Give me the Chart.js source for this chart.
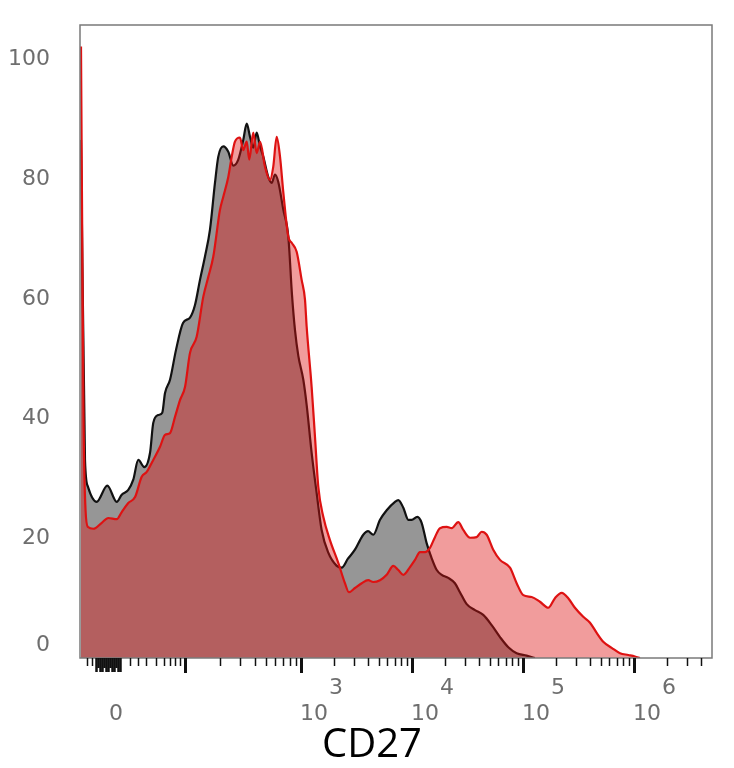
<!DOCTYPE html>
<html>
<head>
<meta charset="utf-8">
<script src="https://cdn.jsdelivr.net/npm/chart.js@4/dist/chart.umd.min.js"></script>
<style>
  html, body { margin: 0; padding: 0; background: #fff; }
  #wrap { width: 734px; height: 768px; position: relative; }
</style>
</head>
<body>
<div id="wrap"><canvas id="c"></canvas></div>
<script>
// ---- Data (x in display decades of the biexponential CD27 axis, y in % of max) ----
const blackX = [1.018,1.054,1.081,1.159,1.255,1.340,1.385,1.444,1.489,1.534,1.588,1.640,1.669,1.714,1.750,1.775,1.820,1.874,1.937,2.000,2.045,2.090,2.135,2.180,2.225,2.255,2.300,2.345,2.390,2.435,2.480,2.511,2.541,2.570,2.601,2.631,2.660,2.705,2.736,2.766,2.795,2.841,2.886,2.919,2.946,2.976,3.021,3.051,3.096,3.141,3.186,3.246,3.322,3.367,3.423,3.486,3.532,3.561,3.604,3.651,3.712,3.772,3.847,3.877,3.922,3.967,3.997,4.048,4.087,4.132,4.177,4.223,4.268,4.327,4.387,4.432,4.493,4.568,4.642,4.718,4.793,4.868,4.943,5.033,5.108];
const blackY = [86.6,33.1,28.6,26.1,28.8,26.1,27.3,28.1,29.8,33.1,31.9,34.3,39.3,40.6,41.0,44.3,46.5,51.5,56.0,56.9,59.0,63.2,67.1,71.6,79.4,83.8,85.5,84.6,82.3,83.3,86.6,89.3,87.1,85.3,87.8,85.5,83.8,80.4,79.4,80.8,79.6,74.9,70.4,60.7,54.8,50.5,46.5,42.3,34.3,27.6,21.4,17.6,15.4,15.1,16.6,18.1,19.7,20.6,21.2,20.6,23.1,24.7,26.1,26.4,25.1,23.1,23.1,23.6,22.6,19.2,16.7,14.7,13.9,13.4,12.5,11.0,9.0,8.0,7.2,5.5,3.5,1.8,0.8,0.4,0];

const redX = [1.018,1.041,1.059,1.081,1.129,1.205,1.264,1.340,1.385,1.444,1.505,1.565,1.610,1.669,1.730,1.775,1.820,1.865,1.910,1.955,2.000,2.060,2.120,2.165,2.210,2.270,2.300,2.345,2.376,2.405,2.450,2.480,2.511,2.534,2.570,2.601,2.631,2.676,2.721,2.750,2.781,2.811,2.841,2.886,2.916,2.961,3.006,3.036,3.051,3.096,3.126,3.156,3.201,3.261,3.336,3.396,3.432,3.486,3.547,3.606,3.651,3.712,3.772,3.832,3.877,3.922,3.982,4.027,4.072,4.117,4.162,4.207,4.252,4.313,4.358,4.417,4.462,4.523,4.583,4.628,4.673,4.732,4.793,4.883,4.943,5.003,5.078,5.153,5.228,5.288,5.349,5.408,5.468,5.543,5.604,5.664,5.723,5.799,5.874,5.949,6.009,6.054];
const redY = [102.2,39.8,24.7,21.9,21.6,22.6,23.4,23.2,24.4,25.9,26.9,30.3,31.1,33.1,35.3,37.3,37.6,40.3,43.1,45.3,51.0,53.7,60.4,63.7,67.1,74.9,77.1,80.4,83.8,86.3,87.0,84.9,86.3,83.3,87.8,84.4,86.3,82.1,79.9,82.1,87.1,83.8,77.8,70.4,69.4,67.9,63.2,59.9,55.4,45.3,37.0,28.6,23.6,19.7,15.9,12.5,11.0,11.7,12.5,13.0,12.7,13.0,13.9,15.4,14.7,13.9,15.2,16.4,17.7,17.7,18.4,20.2,21.7,21.9,21.7,22.7,21.4,20.1,20.2,21.1,20.6,18.1,16.4,15.1,12.5,10.5,10.2,9.4,8.4,10.0,10.9,10.0,8.4,6.9,5.9,4.2,2.7,1.7,0.8,0.5,0.25,0];

// ---- Axis description ----
const xRange = [1.009, 6.703];
const yRange = [0, 105.8];
const yTicks = [0, 20, 40, 60, 80, 100];
const xLabelPos  = [1.279, 3, 4, 5, 6];
const xLabelBase = ['0', '10', '10', '10', '10'];
const xLabelExp  = ['', '3', '4', '5', '6'];
const xMajorTicks = [1.955, 3, 4, 5, 6];
const xDecades = [[1.955, 3], [3, 4], [4, 5], [5, 6], [6, 7]];
const xLinearMinor = [1.072, 1.117, 1.459, 1.532, 1.604, 1.694, 1.766, 1.820, 1.865, 1.910];
const xZeroCluster = [1.153, 1.171, 1.189, 1.207, 1.225, 1.243, 1.261, 1.279, 1.297, 1.315, 1.333, 1.351, 1.369];
const xTitle = 'CD27';

function pts(xs, ys) { return xs.map((x, i) => ({ x: x, y: ys[i] })); }

const axesPlugin = {
  id: 'flowAxes',
  afterDraw(chart) {
    const ctx = chart.ctx;
    const a = chart.chartArea;
    const xs = chart.scales.x, ys = chart.scales.y;
    ctx.save();
    // frame
    ctx.strokeStyle = '#7a7a7a';
    ctx.lineWidth = 1.5;
    ctx.strokeRect(a.left, a.top, a.right - a.left, a.bottom - a.top);
    // ticks
    ctx.strokeStyle = '#111';
    function tick(v, len, w) {
      const px = Math.round(xs.getPixelForValue(v)) + 0.5;
      ctx.lineWidth = w;
      ctx.beginPath();
      ctx.moveTo(px, a.bottom);
      ctx.lineTo(px, a.bottom + len);
      ctx.stroke();
    }
    xLinearMinor.forEach(v => tick(v, 8, 1.5));
    xZeroCluster.forEach((v, i) => tick(v, i % 3 === 1 ? 10 : 14, 2.5));
    xDecades.forEach(d => {
      for (let k = 2; k <= 9; k++) {
        const v = d[0] + Math.log10(k) * (d[1] - d[0]);
        if (v < xRange[1] - 0.03) tick(v, 8, 1.5);
      }
    });
    xMajorTicks.forEach(v => tick(v, 15, 3));
    // y labels
    ctx.fillStyle = '#6e6e6e';
    ctx.font = '22px "DejaVu Sans"';
    ctx.textAlign = 'right';
    ctx.textBaseline = 'middle';
    yTicks.forEach(v => {
      let py = ys.getPixelForValue(v);
      py = Math.min(py, a.bottom - 13);
      ctx.fillText(String(v), 50, py);
    });
    // x labels
    ctx.textAlign = 'left';
    xLabelPos.forEach((v, i) => {
      const px = xs.getPixelForValue(v) - 1;
      ctx.fillText(xLabelBase[i], px, a.bottom + 56);
      if (xLabelExp[i]) {
        const w = ctx.measureText(xLabelBase[i]).width;
        ctx.fillText(xLabelExp[i], px + w + 1, a.bottom + 30);
      }
    });
    // title
    ctx.fillStyle = '#000';
    ctx.font = '40px "Open Sans"';
    ctx.textAlign = 'center';
    ctx.fillText(xTitle, 372, a.bottom + 88);
    ctx.restore();
  }
};

new Chart(document.getElementById('c'), {
  type: 'line',
  data: {
    datasets: [
      {
        label: 'red',
        data: pts(redX, redY),
        borderColor: 'rgb(222,18,18)',
        backgroundColor: 'rgba(222,20,20,0.42)',
        borderWidth: 2.2,
        fill: 'origin',
        pointRadius: 0,
        cubicInterpolationMode: 'monotone'
      },
      {
        label: 'black',
        data: pts(blackX, blackY),
        borderColor: '#111111',
        backgroundColor: 'rgb(150,150,150)',
        borderWidth: 2.2,
        fill: 'origin',
        pointRadius: 0,
        cubicInterpolationMode: 'monotone'
      }
    ]
  },
  options: {
    responsive: true,
    maintainAspectRatio: false,
    animation: false,
    layout: { padding: { left: 80, top: 25, right: 22, bottom: 110 } },
    plugins: { legend: { display: false }, tooltip: { enabled: false } },
    scales: {
      x: { type: 'linear', min: xRange[0], max: xRange[1], display: false },
      y: { type: 'linear', min: yRange[0], max: yRange[1], display: false }
    }
  },
  plugins: [axesPlugin]
});
</script>
</body>
</html>
